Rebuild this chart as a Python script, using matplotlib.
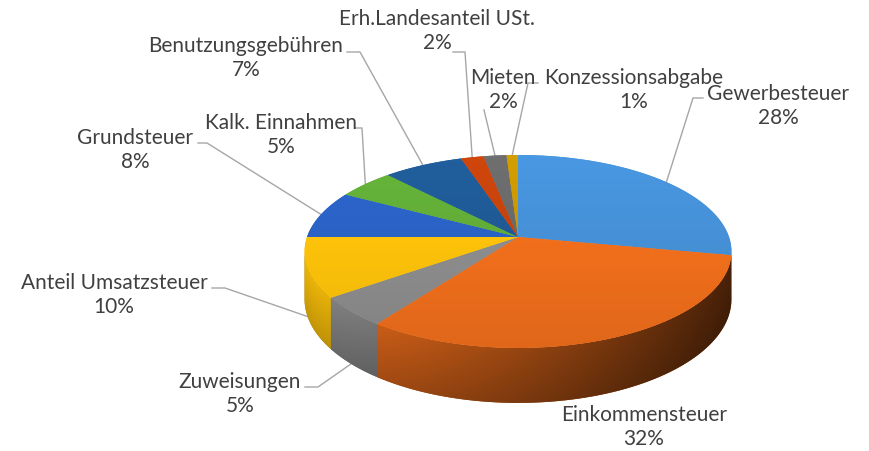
import numpy as np
import matplotlib
matplotlib.use("Agg")
import matplotlib.pyplot as plt
from matplotlib.patches import Polygon
from matplotlib.colors import to_rgb

# ---- data ----
categories = ["Gewerbesteuer", "Einkommensteuer", "Zuweisungen", "Anteil Umsatzsteuer",
              "Grundsteuer", "Kalk. Einnahmen", "Benutzungsgebühren",
              "Erh.Landesanteil USt.", "Mieten", "Konzessionsabgabe"]
values = [28, 32, 5, 10, 8, 5, 7, 2, 2, 1]
pct_labels = ["28%", "32%", "5%", "10%", "8%", "5%", "7%", "2%", "2%", "1%"]

# ---- style / layout ----
colors = ["#4691D8", "#F3701C", "#8E8E8E", "#FFC40A", "#2B62C6",
          "#62AD38", "#1F5A96", "#C6430B", "#6A6A6A", "#C99700"]
label_centers = [(778, 106), (644, 427), (240, 394), (114, 295), (135, 150),
                 (281, 135), (246, 58), (437, 31), (503, 90), (634, 90)]
# leader: start point, elbow point (None = no leader)
leaders = [((703, 98), (693, 98)), None, ((305, 387), (318, 387)),
           ((212, 288), (225, 288)), ((198, 143), (207, 143)),
           ((355, 128), (362, 128)), ((347, 52), (360, 52)),
           ((453, 52), (465, 52)), ((484, 110), (484, 110)),
           ((538, 83), (528, 83))]

CX, CY = 518.0, 237.0
A, B, P, D = 211.0, 94.3, 0.15, 46.7

plt.rcParams['font.family'] = ['Lato', 'DejaVu Sans']
fig = plt.figure(figsize=(8.69, 4.51), dpi=100)
ax = fig.add_axes([0, 0, 1, 1])


def proj(theta, dz=0.0):
    t = np.radians(theta)
    u = np.sin(t)
    v = -np.cos(t)
    w = 1 - P * v
    return CX + A * u / w, CY + (B * v + dz) / w


total = float(sum(values))
cum = np.concatenate([[0], np.cumsum(values)]) / total * 360.0

# pixel grid for gradients
X0, X1, Y0, Y1 = 290, 750, 140, 420
xs = np.arange(X0, X1) + 0.5
ys = np.arange(Y0, Y1) + 0.5
GX, GY = np.meshgrid(xs, ys)

# horizontal shading for side wall
side_h = np.clip(0.90 - 0.55 * (GX - 330) / 370.0, 0.30, 0.92)
xn2 = (GX - CX) / A
disc = 4 * P ** 2 + 4 * (1 - P ** 2) * np.clip(1 - xn2 ** 2, 0, None)
ye = CY + B * (2 * P + np.sqrt(disc)) / (2 * (1 - P ** 2))
frac = np.clip((GY - ye) / 52.0, 0, 1)
side_shade = side_h * (1.0 - 0.18 * frac)
# vertical shading for top face
top_shade = 1.05 - 0.13 * np.clip((GY - 155) / 195.0, 0, 1)


def grad_patch(pts, base, shade, z):
    base = np.array(to_rgb(base))
    solid = Polygon(pts, closed=True, facecolor=np.clip(base * shade.mean(), 0, 1),
                    edgecolor='none', zorder=z)
    ax.add_patch(solid)
    clip = Polygon(pts, closed=True, facecolor='none', edgecolor='none',
                   transform=ax.transData)
    ax.add_patch(clip)
    img = np.clip(base[None, None, :] * shade[:, :, None], 0, 1)
    ax.imshow(img, extent=(X0, X1, Y1, Y0), origin='upper', interpolation='bilinear',
              clip_path=clip, zorder=z + 0.01, aspect='auto')


# visible side range (silhouette where image tangent is vertical)
vis = np.degrees(np.arccos(-P))
vis0, vis1 = vis, 360.0 - vis

# ---- side wall ----
for i in range(len(values)):
    a0 = max(cum[i], vis0)
    a1 = min(cum[i + 1], vis1)
    if a1 <= a0:
        continue
    ts = np.linspace(a0, a1, max(3, int((a1 - a0) / 0.5)))
    pts = [proj(t) for t in ts] + [proj(t, D) for t in ts[::-1]]
    grad_patch(pts, colors[i], side_shade, 1)

# ---- top face ----
for i in range(len(values)):
    a0, a1 = cum[i], cum[i + 1]
    ts = np.linspace(a0, a1, max(3, int((a1 - a0) / 0.5)))
    pts = [(CX, CY)] + [proj(t) for t in ts]
    grad_patch(pts, colors[i], top_shade, 2)

# ---- labels & leaders ----
for i in range(len(values)):
    x, y = label_centers[i]
    ax.text(x, y, f"{categories[i]}\n{pct_labels[i]}", ha='center', va='center',
            fontsize=15, color='#404040', linespacing=1.2, zorder=5)
    if leaders[i] is not None:
        mid = (cum[i] + cum[i + 1]) / 2
        vm = -np.cos(np.radians(mid))
        ex, ey = proj(mid, D if vm > 0 else 0.0)
        (sx, sy), (kx, ky) = leaders[i]
        ax.plot([sx, kx, ex], [sy, ky, ey], color='#A6A6A6', lw=1.0, zorder=0.5)

ax.set_xlim(0, 869)
ax.set_ylim(451, 0)
ax.set_aspect('auto')
ax.axis('off')
fig.savefig("out.png", dpi=100)
